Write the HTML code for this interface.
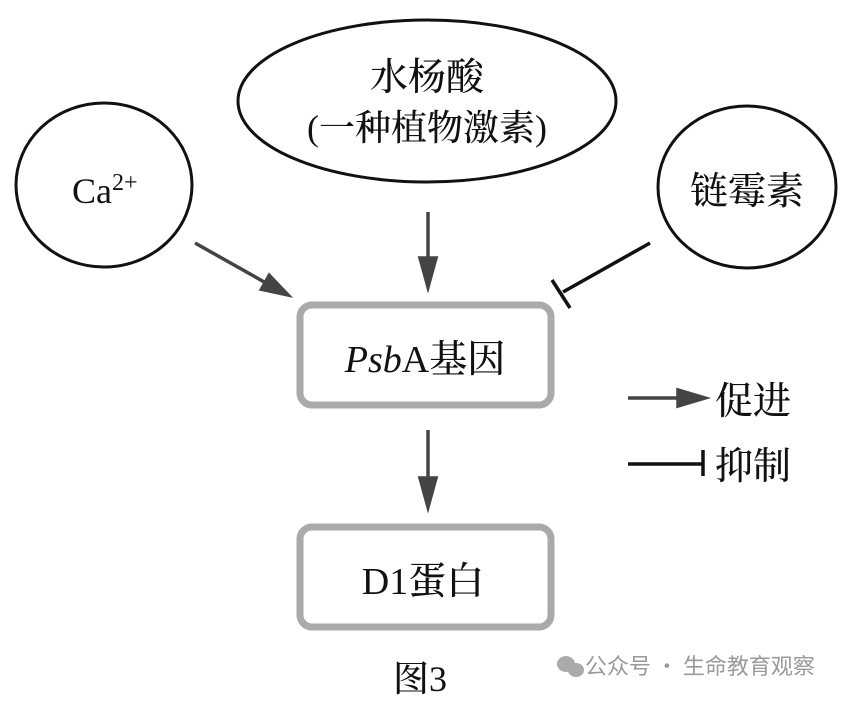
<!DOCTYPE html>
<html><head><meta charset="utf-8"><style>
html,body{margin:0;padding:0;background:#fff;}
svg{display:block;}
text{font-family:"Liberation Serif","Noto Serif CJK SC",serif;fill:#111;}
</style></head><body>
<svg width="847" height="701" viewBox="0 0 847 701" xmlns="http://www.w3.org/2000/svg">
<ellipse cx="427" cy="101" rx="189" ry="81" fill="none" stroke="#111" stroke-width="3"/>
<ellipse cx="104" cy="185" rx="88" ry="82" fill="none" stroke="#111" stroke-width="3"/>
<ellipse cx="747" cy="187" rx="89" ry="81" fill="none" stroke="#111" stroke-width="3"/>
<text x="427" y="90" font-size="38" text-anchor="middle" font-weight="500">水杨酸</text>
<text x="427" y="140" font-size="36" text-anchor="middle" font-weight="500">(一种植物激素)</text>
<text x="72" y="203" font-size="36">Ca<tspan font-size="24" dy="-13">2+</tspan></text>
<text x="747" y="204" font-size="38" text-anchor="middle" font-weight="500">链霉素</text>
<rect x="300" y="305" width="251" height="100" rx="12" fill="#fff" stroke="#aaa" stroke-width="7"/>
<rect x="300" y="527" width="251" height="100" rx="12" fill="#fff" stroke="#aaa" stroke-width="7"/>
<text x="425" y="372" font-size="38" text-anchor="middle" font-weight="500"><tspan font-style="italic">Psb</tspan>A基因</text>
<text x="423" y="594" font-size="38" text-anchor="middle" font-weight="500">D1蛋白</text>
<g stroke="#444" stroke-width="3.5" fill="#444">
<line x1="428" y1="212" x2="428" y2="262"/>
<polygon points="420,258 436,258 428,287"/>
<line x1="195" y1="243" x2="266" y2="283"/>
<polygon points="261.4,289.3 269.2,275.3 288,295"/>
<line x1="428" y1="430" x2="428" y2="482"/>
<polygon points="420,478 436,478 428,507"/>
<line x1="628" y1="398" x2="680" y2="398"/>
<polygon points="678,390 678,406 705,398"/>
</g>
<g stroke="#111" stroke-width="3.5">
<line x1="650" y1="243" x2="563" y2="292"/>
<line x1="552" y1="280" x2="570" y2="308"/>
<line x1="628" y1="464" x2="703" y2="464"/>
<line x1="703" y1="450" x2="703" y2="476"/>
</g>
<text x="715" y="414" font-size="38" font-weight="500">促进</text>
<text x="715" y="479" font-size="38" font-weight="500">抑制</text>
<text x="420" y="691" font-size="36" text-anchor="middle" font-weight="500">图3</text>
<g fill="#aaa">
<ellipse cx="566" cy="664" rx="9" ry="8"/>
<ellipse cx="576" cy="670" rx="8" ry="7"/>
</g>
<text x="585" y="674" font-size="22" style="font-family:'Noto Sans CJK SC',sans-serif;fill:#999">公众号 · 生命教育观察</text>
</svg>
</body></html>
